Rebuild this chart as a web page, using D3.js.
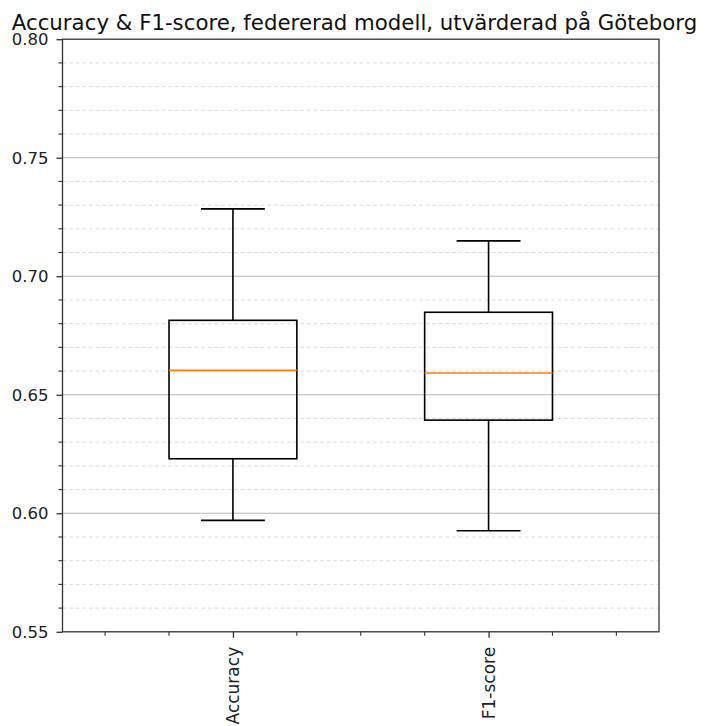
<!DOCTYPE html>
<html>
<head>
<meta charset="utf-8">
<script src="https://d3js.org/d3.v7.min.js"></script>
<style>
  html, body { margin: 0; padding: 0; background: #fff; }
  svg { display: block; font-family: "DejaVu Sans", sans-serif; }
</style>
</head>
<body>
<svg id="chart" width="706" height="726"></svg>
<script>
// Box plot statistics per metric
const categories = ["Accuracy", "F1-score"];
const whiskerLow  = [0.5970, 0.5926];
const q1          = [0.6230, 0.6393];
const median      = [0.6603, 0.6592];
const q3          = [0.6814, 0.6848];
const whiskerHigh = [0.7284, 0.7149];
const yMajorTicks = [0.55, 0.60, 0.65, 0.70, 0.75, 0.80];
const yMinorTicks = [0.56, 0.57, 0.58, 0.59, 0.61, 0.62, 0.63, 0.64, 0.66, 0.67, 0.68, 0.69,
                     0.71, 0.72, 0.73, 0.74, 0.76, 0.77, 0.78, 0.79];
const xMinorTicks = [0.5, 0.75, 1.25, 1.5, 1.75, 2.25, 2.5];
const title = "Accuracy & F1-score, federerad modell, utvärderad på Göteborg";

const svg = d3.select("#chart");
const plotLeft = 62.5, plotRight = 659, plotTop = 39.2, plotBottom = 631.8;

const x = d3.scaleLinear().domain([1 / 3, 8 / 3]).range([plotLeft, plotRight]);
const y = d3.scaleLinear().domain([0.55, 0.80]).range([plotBottom, plotTop]);

// Grid: dashed minor lines, solid major lines
const grid = svg.append("g");
grid.selectAll("line.minor").data(yMinorTicks).join("line")
  .attr("class", "minor")
  .attr("x1", plotLeft).attr("x2", plotRight)
  .attr("y1", d => y(d)).attr("y2", d => y(d))
  .attr("stroke", "#d9d9d9").attr("stroke-width", 0.9)
  .attr("stroke-dasharray", "4,2.6");
grid.selectAll("line.major").data(yMajorTicks.slice(1, -1)).join("line")
  .attr("class", "major")
  .attr("x1", plotLeft).attr("x2", plotRight)
  .attr("y1", d => y(d)).attr("y2", d => y(d))
  .attr("stroke", "#b8b8b8").attr("stroke-width", 1.1);

// Boxes
const boxW = 0.5, capW = 0.25;
const boxes = svg.append("g").selectAll("g").data(categories.map((c, i) => ({
  c, pos: i + 1, lo: whiskerLow[i], q1: q1[i], med: median[i], q3: q3[i], hi: whiskerHigh[i]
}))).join("g");

const lw = 1.6;
boxes.append("line")
  .attr("x1", d => x(d.pos)).attr("x2", d => x(d.pos))
  .attr("y1", d => y(d.q3)).attr("y2", d => y(d.hi))
  .attr("stroke", "#000").attr("stroke-width", lw);
boxes.append("line")
  .attr("x1", d => x(d.pos)).attr("x2", d => x(d.pos))
  .attr("y1", d => y(d.q1)).attr("y2", d => y(d.lo))
  .attr("stroke", "#000").attr("stroke-width", lw);
boxes.append("line")
  .attr("x1", d => x(d.pos - capW / 2)).attr("x2", d => x(d.pos + capW / 2))
  .attr("y1", d => y(d.hi)).attr("y2", d => y(d.hi))
  .attr("stroke", "#000").attr("stroke-width", lw);
boxes.append("line")
  .attr("x1", d => x(d.pos - capW / 2)).attr("x2", d => x(d.pos + capW / 2))
  .attr("y1", d => y(d.lo)).attr("y2", d => y(d.lo))
  .attr("stroke", "#000").attr("stroke-width", lw);
boxes.append("rect")
  .attr("x", d => x(d.pos - boxW / 2))
  .attr("width", d => x(d.pos + boxW / 2) - x(d.pos - boxW / 2))
  .attr("y", d => y(d.q3))
  .attr("height", d => y(d.q1) - y(d.q3))
  .attr("fill", "none").attr("stroke", "#000").attr("stroke-width", lw);
boxes.append("line")
  .attr("x1", d => x(d.pos - boxW / 2)).attr("x2", d => x(d.pos + boxW / 2))
  .attr("y1", d => y(d.med)).attr("y2", d => y(d.med))
  .attr("stroke", "#ff7f0e").attr("stroke-width", lw);

// Y axis
const yAxis = svg.append("g").attr("transform", `translate(${plotLeft},0)`)
  .call(d3.axisLeft(y).tickValues(yMajorTicks).tickFormat(d3.format(".2f"))
    .tickSizeInner(6).tickSizeOuter(0).tickPadding(8));
yAxis.select(".domain").remove();
yAxis.selectAll(".tick line").attr("stroke", "#333").attr("stroke-width", 1.3);
yAxis.selectAll(".tick text").attr("font-size", 16.5).attr("fill", "#222")
  .attr("font-family", "DejaVu Sans");
svg.append("g").selectAll("line").data(yMinorTicks).join("line")
  .attr("x1", plotLeft - 4).attr("x2", plotLeft)
  .attr("y1", d => y(d)).attr("y2", d => y(d))
  .attr("stroke", "#333").attr("stroke-width", 1.1);

// X axis
const xAxis = svg.append("g").attr("transform", `translate(0,${plotBottom})`)
  .call(d3.axisBottom(x).tickValues([1, 2]).tickFormat((d, i) => categories[i])
    .tickSizeInner(6).tickSizeOuter(0).tickPadding(9));
xAxis.select(".domain").remove();
xAxis.selectAll(".tick line").attr("stroke", "#333").attr("stroke-width", 1.3);
xAxis.selectAll(".tick text")
  .attr("font-size", 17).attr("fill", "#222").attr("font-family", "DejaVu Sans")
  .attr("text-anchor", "end").attr("dy", null)
  .attr("dominant-baseline", "central")
  .attr("transform", "translate(0,15) rotate(-90)")
  .attr("x", 0).attr("y", 0);
svg.append("g").selectAll("line").data(xMinorTicks).join("line")
  .attr("x1", d => x(d)).attr("x2", d => x(d))
  .attr("y1", plotBottom).attr("y2", plotBottom + 4)
  .attr("stroke", "#333").attr("stroke-width", 1.1);

// Frame
svg.append("rect")
  .attr("x", plotLeft).attr("y", plotTop)
  .attr("width", plotRight - plotLeft).attr("height", plotBottom - plotTop)
  .attr("fill", "none").attr("stroke", "#333").attr("stroke-width", 1.3);

// Title
svg.append("text")
  .attr("x", 354.5).attr("y", 30)
  .attr("text-anchor", "middle")
  .attr("font-size", 21.3).attr("fill", "#111")
  .text(title);
</script>
</body>
</html>
